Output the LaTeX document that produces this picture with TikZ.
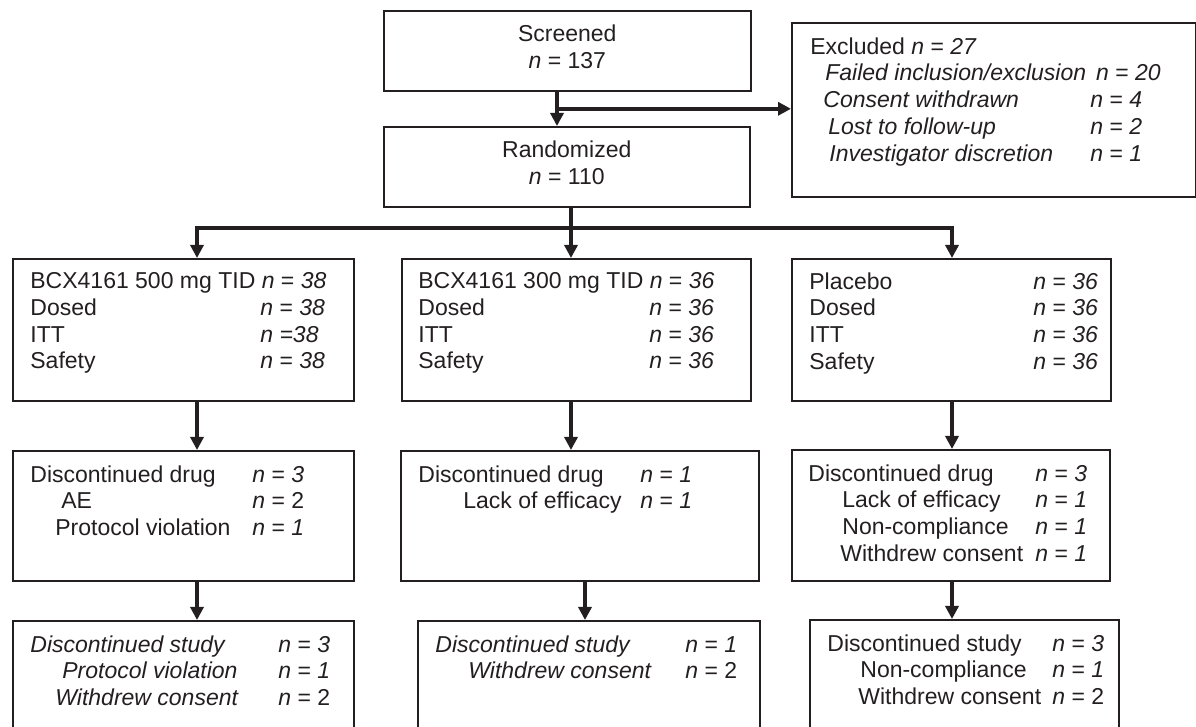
\documentclass[tikz,border=0pt]{standalone}
\usepackage{fontspec}
\setmainfont{Liberation Sans}
\usetikzlibrary{arrows.meta, positioning, calc}
\definecolor{flowink}{HTML}{231F20}
\newcommand{\cnt}[1]{\textit{n} = \textit{#1}}
\newcommand{\cntu}[1]{\textit{n} = #1}
\newcommand{\rowtxt}[4]{\makebox[#1][l]{\hspace*{#2}#3}#4}

\begin{document}
\begin{tikzpicture}[
  x=0.5pt, y=-0.5pt,
  font=\fontsize{11.5}{13.4}\selectfont, color=flowink,
  box/.style={draw, line width=0.8pt, inner sep=0pt, anchor=north west},
  boxtext/.style={anchor=north west, align=left, inner sep=0pt},
  arr/.style={-{Triangle[length=6.5pt, width=6.5pt]}, line width=2.2pt},
  twoarr/.style={{Triangle[length=6.5pt, width=6.5pt]}-{Triangle[length=6.5pt, width=6.5pt]}, line width=2.2pt}
]
  \useasboundingbox (0,0) rectangle (1196,727);
  \clip (0,0) rectangle (1196,727);

  \node[box, minimum width=183.5pt, minimum height=40pt, align=center, text depth=4pt] (scr) at (383,10)
    {Screened\\\textit{n} = 137};
  \node[box, minimum width=183pt, minimum height=40pt, align=center, text depth=4pt] (rnd) at (383,126)
    {Randomized\\\textit{n} = 110};
  \node[box, minimum width=202pt, minimum height=87pt] (excl) at (791,22) {};

  \node[box, minimum width=170.5pt, minimum height=71pt] (arm1) at (12,258) {};
  \node[box, minimum width=174.5pt, minimum height=71pt] (arm2) at (401,258) {};
  \node[box, minimum width=159.5pt, minimum height=71pt] (arm3) at (791,258) {};

  \node[box, minimum width=170.5pt, minimum height=65pt] (drug1) at (12,450) {};
  \node[box, minimum width=179pt, minimum height=65pt] (drug2) at (400,450) {};
  \node[box, minimum width=159pt, minimum height=65.5pt] (drug3) at (791,449) {};

  \node[box, minimum width=170.5pt, minimum height=70pt] (study1) at (12,620) {};
  \node[box, minimum width=171pt, minimum height=70pt] (study2) at (417,620) {};
  \node[box, minimum width=154.5pt, minimum height=70pt] (study3) at (809,619) {};

  \node[boxtext] (excltxt) at ($(excl.north west)+(19,15)$) {Excluded \cnt{27}\\
    \hspace*{7.5pt}\textit{Failed inclusion/exclusion}\hspace{5pt}\cnt{20}\\
    \rowtxt{140pt}{6.5pt}{\textit{Consent withdrawn}}{\cnt{4}}\\
    \rowtxt{140pt}{9pt}{\textit{Lost to follow-up}}{\cnt{2}}\\
    \rowtxt{140pt}{9.5pt}{\textit{Investigator discretion}}{\cnt{1}}};

  \node[boxtext] (arm1txt) at ($(arm1.north west)+(18,14)$) {%
    BCX4161 500 mg TID \cnt{38}\\
    \rowtxt{115pt}{0pt}{Dosed}{\cnt{38}}\\
    \rowtxt{115pt}{0pt}{ITT}{\textit{n =38}}\\
    \rowtxt{115pt}{0pt}{Safety}{\cnt{38}}};
  \node[boxtext] (arm2txt) at ($(arm2.north west)+(17,14)$) {%
    BCX4161 300 mg TID \cnt{36}\\
    \rowtxt{115.5pt}{0pt}{Dosed}{\cnt{36}}\\
    \rowtxt{115.5pt}{0pt}{ITT}{\cnt{36}}\\
    \rowtxt{115.5pt}{0pt}{Safety}{\cnt{36}}};
  \node[boxtext] (arm3txt) at ($(arm3.north west)+(18,14)$) {%
    \rowtxt{112pt}{0pt}{Placebo}{\cnt{36}}\\
    \rowtxt{112pt}{0pt}{Dosed}{\cnt{36}}\\
    \rowtxt{112pt}{0pt}{ITT}{\cnt{36}}\\
    \rowtxt{112pt}{0pt}{Safety}{\cnt{36}}};

  \node[boxtext] (drug1txt) at ($(drug1.north west)+(18,15)$) {%
    \rowtxt{111pt}{0pt}{Discontinued drug}{\cnt{3}}\\
    \rowtxt{111pt}{15.5pt}{AE}{\cntu{2}}\\
    \rowtxt{111pt}{12.5pt}{Protocol violation}{\cnt{1}}};
  \node[boxtext] (drug2txt) at ($(drug2.north west)+(18,15)$) {%
    \rowtxt{111pt}{0pt}{Discontinued drug}{\cnt{1}}\\
    \rowtxt{111pt}{22.5pt}{Lack of efficacy}{\cnt{1}}};
  \node[boxtext] (drug3txt) at ($(drug3.north west)+(17,15)$) {%
    \rowtxt{113.5pt}{0pt}{Discontinued drug}{\cnt{3}}\\
    \rowtxt{113.5pt}{17pt}{Lack of efficacy}{\cnt{1}}\\
    \rowtxt{113.5pt}{17pt}{Non-compliance}{\cnt{1}}\\
    \rowtxt{113.5pt}{16pt}{Withdrew consent}{\cnt{1}}};

  \node[boxtext] (study1txt) at ($(study1.north west)+(18,15)$) {%
    \rowtxt{124pt}{0pt}{\textit{Discontinued study}}{\cnt{3}}\\
    \rowtxt{124pt}{16pt}{\textit{Protocol violation}}{\cnt{1}}\\
    \rowtxt{124pt}{12.5pt}{\textit{Withdrew consent}}{\cntu{2}}};
  \node[boxtext] (study2txt) at ($(study2.north west)+(18,15)$) {%
    \rowtxt{125pt}{0pt}{\textit{Discontinued study}}{\cnt{1}}\\
    \rowtxt{125pt}{16.5pt}{\textit{Withdrew consent}}{\cntu{2}}};
  \node[boxtext] (study3txt) at ($(study3.north west)+(18,15)$) {%
    \rowtxt{112.5pt}{0pt}{Discontinued study}{\cnt{3}}\\
    \rowtxt{112.5pt}{16.5pt}{Non-compliance}{\cnt{1}}\\
    \rowtxt{112.5pt}{15.5pt}{Withdrew consent}{\cntu{2}}};

  \coordinate (cs) at (557,0);
  \coordinate (c1) at (197,0);
  \coordinate (c2) at (571,0);
  \coordinate (c2b) at (585,0);
  \coordinate (c3) at (952,0);
  \coordinate (br) at (571,228);
  \coordinate (ex) at ($(cs |- scr.south)!0.5!(cs |- rnd.north)$);

  \draw[arr] (cs |- scr.south) -- (cs |- rnd.north);
  \draw[arr] (ex) -- (ex -| excl.west);
  \draw[arr] (c2 |- rnd.south) -- (c2 |- arm2.north);
  \draw[twoarr] (c1 |- arm1.north) -- (c1 |- br) -- (c3 |- br) -- (c3 |- arm3.north);

  \draw[arr] (c1 |- arm1.south) -- (c1 |- drug1.north);
  \draw[arr] (c2 |- arm2.south) -- (c2 |- drug2.north);
  \draw[arr] (c3 |- arm3.south) -- (c3 |- drug3.north);
  \draw[arr] (c1 |- drug1.south) -- (c1 |- study1.north);
  \draw[arr] (c2b |- drug2.south) -- (c2b |- study2.north);
  \draw[arr] (c3 |- drug3.south) -- (c3 |- study3.north);
\end{tikzpicture}
\end{document}
